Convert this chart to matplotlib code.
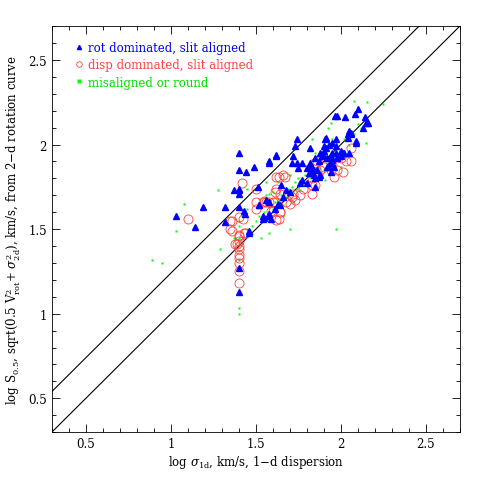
import matplotlib
matplotlib.use("Agg")
import matplotlib.pyplot as plt
from matplotlib.ticker import MultipleLocator

plt.rcParams['font.family'] = ['DejaVu Serif']
plt.rcParams['mathtext.fontset'] = 'dejavuserif'

# rot dominated, slit aligned
rot_x = [1.40, 1.40, 1.44, 1.49, 1.58, 1.62, 1.51, 1.40, 1.37, 1.40, 1.40, 1.19, 1.32, 1.40,
         1.43, 1.03, 1.14, 1.32, 1.46, 1.52, 1.56, 1.58, 1.55, 1.40, 1.40, 1.46, 1.54, 1.57,
         1.58, 1.435,
         2.10, 2.086, 1.967, 1.98, 2.025, 2.15, 2.128, 2.04, 2.06, 1.74, 1.906, 1.97, 2.09,
         1.73, 1.93, 1.91, 1.82, 1.97, 1.876, 1.895, 1.89, 1.95, 1.97, 2.02, 2.05, 1.62, 1.72,
         1.945, 1.93, 1.96, 1.576,
         1.71, 1.74, 1.77, 1.75, 1.80, 1.82, 1.83, 1.87, 1.92, 1.95, 1.98, 1.81, 1.87, 1.88,
         1.80, 1.85, 1.65, 1.77, 1.76, 1.68, 1.70, 1.66, 1.63, 1.64, 1.61, 1.58, 1.59, 1.52,
         1.54, 2.14, 2.16, 2.05, 2.06, 2.04, 2.09, 1.91, 1.95, 1.90, 2.00, 2.01, 1.90, 1.89,
         1.85, 1.945, 1.95, 1.98, 2.00, 1.94, 1.92, 1.82, 1.83, 1.86, 1.82, 1.84, 1.945, 1.85]
rot_y = [1.95, 1.85, 1.84, 1.87, 1.89, 1.94, 1.75, 1.74, 1.73, 1.73, 1.71, 1.63, 1.63, 1.63,
         1.61, 1.58, 1.51, 1.545, 1.49, 1.64, 1.67, 1.575, 1.565, 1.27, 1.13, 1.48, 1.56, 1.58,
         1.66, 1.59,
         2.21, 2.18, 2.17, 2.17, 2.16, 2.13, 2.10, 2.06, 2.06, 2.03, 2.03, 2.03, 2.01,
         1.99, 2.00, 1.98, 1.98, 1.99, 1.95, 1.947, 1.93, 1.95, 1.95, 1.95, 1.95, 1.93, 1.93,
         1.905, 1.87, 1.87, 1.90,
         1.89, 1.89, 1.89, 1.86, 1.86, 1.88, 1.85, 1.90, 1.92, 1.89, 1.92, 1.83, 1.81, 1.82,
         1.77, 1.75, 1.76, 1.79, 1.77, 1.73, 1.72, 1.69, 1.65, 1.64, 1.62, 1.59, 1.56, 1.64,
         1.58, 2.16, 2.13, 2.08, 2.07, 2.04, 2.02, 2.04, 2.01, 1.99, 1.96, 1.95, 1.96, 1.93,
         1.92, 1.93, 1.91, 1.92, 1.93, 1.89, 1.87, 1.89, 1.87, 1.85, 1.83, 1.82, 1.84, 1.80]

# disp dominated, slit aligned
disp_x = [1.42, 1.50, 1.62, 1.62, 1.50, 1.55, 1.60, 1.50, 1.10, 1.35, 1.40, 1.425, 1.35, 1.435,
          1.40, 1.39, 1.40, 1.378, 1.62, 1.59, 1.40, 1.40, 1.40, 1.40, 1.40, 1.40, 1.40, 1.433,
          2.06, 2.03, 2.06, 2.01, 1.96, 1.94, 1.84, 1.86, 1.866, 1.83, 1.83, 1.73, 1.635, 1.64,
          1.72, 1.55, 1.58, 1.60, 1.64, 1.635, 1.66, 1.61, 1.61, 1.64, 1.83, 1.88, 1.67, 1.85,
          1.56, 1.36, 1.36, 1.40, 1.71, 1.70, 1.84, 1.90, 1.95, 2.00, 1.98, 1.78, 1.76, 1.68]
disp_y = [1.77, 1.74, 1.81, 1.735, 1.66, 1.66, 1.66, 1.62, 1.56, 1.55, 1.57, 1.56, 1.50, 1.48,
          1.465, 1.41, 1.40, 1.41, 1.553, 1.61, 1.46, 1.38, 1.347, 1.33, 1.30, 1.25, 1.18, 1.475,
          1.98, 1.90, 1.90, 1.84, 1.81, 1.85, 1.89, 1.90, 1.82, 1.71, 1.76, 1.67, 1.81, 1.71,
          1.71, 1.665, 1.66, 1.61, 1.60, 1.56, 1.82, 1.72, 1.66, 1.60, 1.80, 1.85, 1.81, 1.76,
          1.66, 1.49, 1.55, 1.43, 1.69, 1.65, 1.84, 1.87, 1.88, 1.92, 1.85, 1.74, 1.70, 1.66]

# misaligned or round
mis_x = [2.155, 2.25, 1.945, 1.925, 2.147, 1.83, 2.00, 1.906, 1.86, 1.97, 1.70, 1.58, 1.56,
         1.28, 1.45, 1.08, 1.03, 1.56, 1.58, 0.89, 0.95, 1.29, 1.40, 1.40, 2.08,
         1.45, 1.48, 1.50, 1.52, 1.53, 1.55, 1.57, 1.58, 1.60, 1.61, 1.62, 1.63, 1.64, 1.65,
         1.66, 1.67, 1.68, 1.69, 1.70, 1.71, 1.72, 1.73, 1.74, 1.75, 1.76, 1.77, 1.78, 1.79,
         1.80, 1.81, 1.82, 1.84, 1.85, 1.87, 1.88, 1.90, 1.92, 1.94, 1.96, 1.98, 2.00, 2.02,
         2.05, 2.08, 2.12, 1.40, 1.40, 1.40, 1.40, 1.40, 1.40, 1.42, 1.45, 1.48, 1.52, 1.60,
         1.63, 1.70, 1.75, 1.85, 1.90, 1.95, 2.02, 2.10, 1.66, 1.72, 1.53, 1.37]
mis_y = [2.25, 2.24, 2.13, 2.10, 2.01, 2.03, 1.87, 1.79, 1.75, 1.50, 1.50, 1.48, 1.78,
         1.73, 1.735, 1.65, 1.49, 1.70, 1.705, 1.32, 1.30, 1.38, 1.035, 1.00, 2.26,
         1.50, 1.52, 1.55, 1.58, 1.54, 1.60, 1.58, 1.63, 1.62, 1.66, 1.60, 1.68, 1.65, 1.70,
         1.64, 1.72, 1.69, 1.74, 1.68, 1.75, 1.72, 1.78, 1.74, 1.80, 1.73, 1.79, 1.76, 1.82,
         1.78, 1.85, 1.80, 1.86, 1.83, 1.90, 1.86, 1.92, 1.89, 1.95, 1.93, 1.99, 1.96, 2.03,
         2.00, 2.06, 2.10, 1.52, 1.55, 1.45, 1.42, 1.37, 1.32, 1.58, 1.62, 1.47, 1.68, 1.72,
         1.78, 1.82, 1.86, 1.95, 1.85, 2.03, 1.92, 2.12, 1.58, 1.66, 1.45, 1.45]

offset = 0.24   # upper reference line, log sqrt(3)

red = '#ff4040'
fig = plt.figure(figsize=(4.85, 4.85), dpi=100)
ax = fig.add_axes([0.107, 0.107, 0.841, 0.837])

ax.axline((0.3, 0.3), slope=1, color='black', lw=0.8)
ax.axline((0.3, 0.3 + offset), slope=1, color='black', lw=0.8)

ax.plot(mis_x, mis_y, 's', ms=2, color='#00ff00', mec='none',
        label='misaligned or round', zorder=2)
ax.plot(disp_x, disp_y, 'o', ms=6.5, mfc='none', mec=red, mew=0.6,
        label='disp dominated, slit aligned', zorder=3)
ax.plot(rot_x, rot_y, '^', ms=4.8, color='blue', mec='blue',
        label='rot dominated, slit aligned', zorder=4)

h, l = ax.get_legend_handles_labels()
leg = ax.legend(h[::-1], l[::-1], loc='upper left', frameon=False, fontsize=8.5,
                handlelength=0.6, handletextpad=0.5,
                bbox_to_anchor=(0.04, 0.98),
                borderaxespad=0.2, labelspacing=0.35)
for t, c in zip(leg.get_texts(), ['blue', red, '#00dd00']):
    t.set_color(c)
for hd, ms in zip(leg.legend_handles, [3, 4, 2.5]):
    hd.set_markersize(ms)

ax.set_xlim(0.3, 2.7)
ax.set_ylim(0.3, 2.7)
ax.xaxis.set_major_locator(MultipleLocator(0.5))
ax.yaxis.set_major_locator(MultipleLocator(0.5))
ax.xaxis.set_minor_locator(MultipleLocator(0.1))
ax.yaxis.set_minor_locator(MultipleLocator(0.1))
ax.tick_params(which='both', direction='in', top=True, right=True, labelsize=8.5, width=0.6)
ax.tick_params(which='major', length=6)
ax.tick_params(which='minor', length=3)
ax.xaxis.set_major_formatter(plt.FuncFormatter(lambda v, p: f'{v:g}'))
ax.yaxis.set_major_formatter(plt.FuncFormatter(lambda v, p: f'{v:g}'))
for s in ax.spines.values():
    s.set_linewidth(0.6)

ax.set_xlabel(r'log $\sigma_{\rm 1d}$, km/s, 1$-$d dispersion', fontsize=8.5, labelpad=2)
ax.set_ylabel(r'log S$_{0.5}$, sqrt(0.5 V$^2_{\rm rot}$+ $\sigma^2_{\rm 2d}$), km/s, from 2$-$d rotation curve',
              fontsize=8.5, labelpad=4)

fig.savefig('out.png', dpi=100)
